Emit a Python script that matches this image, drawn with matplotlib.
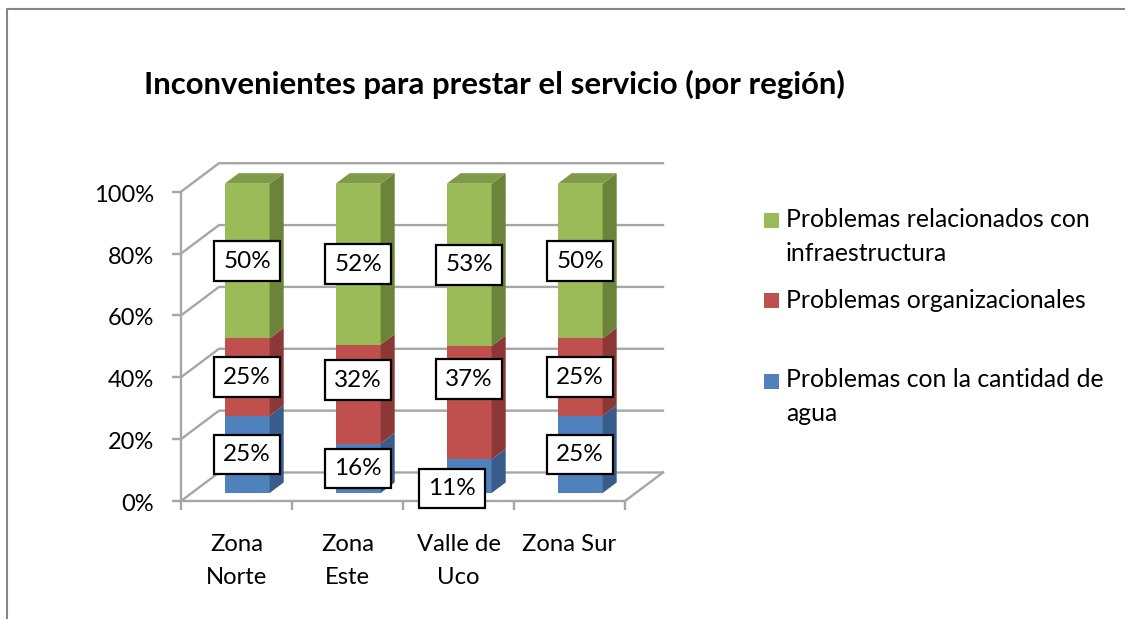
import matplotlib
matplotlib.use("Agg")
import matplotlib.pyplot as plt
from matplotlib.patches import Polygon, Rectangle
from matplotlib.lines import Line2D
from matplotlib.transforms import ScaledTranslation

plt.rcParams['font.family'] = ['Lato', 'DejaVu Sans']

categorias = ["Zona\nNorte", "Zona\nEste", "Valle de\nUco", "Zona Sur"]
agua = [25, 16, 11, 25]
organizacion = [25, 32, 37, 25]
infraestructura = [50, 52, 53, 50]
titulo = "Inconvenientes para prestar el servicio (por región)"
nombres = ["Problemas relacionados con\ninfraestructura",
           "Problemas organizacionales",
           "Problemas con la cantidad de\nagua"]
yticks = [0, 20, 40, 60, 80, 100]

W, H = 1125, 619
GRIS = "#A6A6A6"

# colores: frente, lado, tapa
azul = ("#4F81BD", "#385D8A", "#4A76AD")
rojo = ("#C0504D", "#8C3836", "#A34441")
verde = ("#9BBB59", "#6B8439", "#7F9B47")

fig = plt.figure(figsize=(W / 100, H / 100), dpi=100)
ax = fig.add_axes([181 / W, 1 - 501 / H, 444 / W, 309.3 / H])
ax.set_xlim(0, 4)
ax.set_ylim(0, 100)
ax.patch.set_visible(False)

# profundidad del falso 3D, en unidades de datos
DX = 38 / 111
DY = 28.5 / 3.093
ANCHO = 45 / 111
D_FRENTE = 0.28
D_FONDO = 0.65


def p(x, y, d=0.0):
    return (x + d * DX, y + d * DY)


# paredes y piso
for v in yticks:
    ax.plot(*zip(p(0, v), p(0, v, 1), p(4, v, 1)), color=GRIS, lw=1.7,
            clip_on=False, zorder=1, solid_joinstyle="miter")
ax.plot(*zip(p(4, 0), p(4, 0, 1)), color=GRIS, lw=1.7, clip_on=False, zorder=1)

for s in ["top", "right"]:
    ax.spines[s].set_visible(False)
for s in ["left", "bottom"]:
    ax.spines[s].set_color(GRIS)
    ax.spines[s].set_linewidth(1.7)
    ax.spines[s].set_zorder(1.5)

ax.set_yticks(yticks)
ax.set_yticklabels([f"{v}%" for v in yticks])
ax.set_xticks(range(5))
ax.set_xticklabels([])
ax.tick_params(axis="both", color=GRIS, width=1.7, length=6.5)
ax.tick_params(axis="y", labelsize=17, labelcolor="black", pad=13)
# en el original las etiquetas quedan un poco mas abajo que las marcas
for lab in ax.get_yticklabels():
    lab.set_transform(lab.get_transform() + ScaledTranslation(0, -1.5 / 100, fig.dpi_scale_trans))

for i, c in enumerate(categorias):
    ax.annotate(c, (i + 0.5, 0), xytext=(0, -24), textcoords="offset points",
                ha="center", va="top", fontsize=17.2, linespacing=1.7,
                annotation_clip=False)


def caja(x, y, txt, off=(0, 0)):
    ax.annotate(txt, (x, y), xytext=off, textcoords="offset points",
                ha="center", va="center", fontsize=17.5, zorder=10,
                annotation_clip=False,
                bbox=dict(boxstyle="square,pad=0.38", fc="white", ec="black", lw=1.6))


# etiquetas movidas a mano en el original (serie, categoria): puntos
movidas = {("agua", 2): (-12.6, -9), ("org", 1): (0, 10), ("org", 2): (0, 17)}

series = [("agua", agua, azul), ("org", organizacion, rojo), ("inf", infraestructura, verde)]
for i in range(len(categorias)):
    total = agua[i] + organizacion[i] + infraestructura[i]
    x0 = i + 0.5 - ANCHO / 2
    x1 = x0 + ANCHO
    base = 0
    for nom, vals, col in series:
        top = base + vals[i] * 100 / total
        ax.add_patch(Polygon([p(x0, base, D_FRENTE), p(x1, base, D_FRENTE),
                              p(x1, top, D_FRENTE), p(x0, top, D_FRENTE)],
                             fc=col[0], ec="none", clip_on=False, zorder=3))
        ax.add_patch(Polygon([p(x1, base, D_FRENTE), p(x1, base, D_FONDO),
                              p(x1, top, D_FONDO), p(x1, top, D_FRENTE)],
                             fc=col[1], ec="none", clip_on=False, zorder=3))
        caja(x0 + ANCHO / 2 + D_FRENTE * DX, (base + top) / 2 + D_FRENTE * DY,
             f"{vals[i]}%", movidas.get((nom, i), (0, 0)))
        base = top
    ax.add_patch(Polygon([p(x0, 100, D_FRENTE), p(x1, 100, D_FRENTE),
                          p(x1, 100, D_FONDO), p(x0, 100, D_FONDO)],
                         fc=verde[2], ec="none", clip_on=False, zorder=3))

fig.text(144 / W, 1 - 84 / H, titulo, fontsize=22.4, fontweight="bold",
         ha="left", va="center")

# leyenda con separaciones desiguales como en el original
# (va="baseline" toma la ultima linea del texto)
ley_y = [220.7, 300.7, 381.7]
ley_base = [261, 308, 421]
ley_col = [verde[0], rojo[0], azul[0]]
for yy, yb, col, nom in zip(ley_y, ley_base, ley_col, nombres):
    fig.add_artist(Rectangle((764 / W, 1 - (yy + 7.5) / H), 15 / W, 15 / H,
                             transform=fig.transFigure, fc=col, ec="none"))
    fig.text(786 / W, 1 - yb / H, nom, fontsize=17.8, ha="left", va="baseline",
             linespacing=1.59)

# marco
fig.add_artist(Line2D([7 / W, 7 / W, 1], [0, 1 - 8.5 / H, 1 - 8.5 / H],
                      transform=fig.transFigure, color="#868686", lw=1.5))

fig.savefig("out.png", dpi=100)
